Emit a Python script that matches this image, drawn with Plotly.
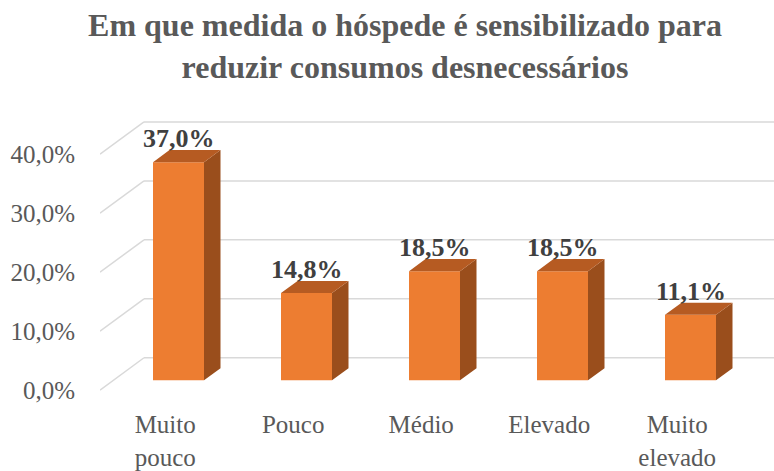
import plotly.graph_objects as go

# ---- data ----
categories = ["Muito<br>pouco", "Pouco", "Médio", "Elevado", "Muito<br>elevado"]
values = [37.0, 14.8, 18.5, 18.5, 11.1]
grid_values = [0, 10, 20, 30, 40]
title_text = "Em que medida o hóspede é sensibilizado para<br>reduzir consumos desnecessários"

# ---- styling / geometry (pixel-consistent units) ----
W, H = 774, 471
ML, MR, MT, MB = 100, 0, 110, 71
PX_PER_X = 128.0          # px per category
PX_PER_Y = 6.02           # px per percent
CENTER0_PX = 178.5        # px of first bar centre (front face)
BASE_PX = 386.0           # px of bar base (front face)

x_range = [(ML - CENTER0_PX) / PX_PER_X, (W - MR - CENTER0_PX) / PX_PER_X]
y_range = [(BASE_PX - (H - MB)) / PX_PER_Y, (BASE_PX - MT) / PX_PER_Y]

bar_w = 51 / PX_PER_X
bar_dx = 16.5 / PX_PER_X
bar_dy = 12.4 / PX_PER_Y
front_dx, front_dy = -13.3 / PX_PER_X, -10.0 / PX_PER_Y
back_dx, back_dy = 30.7 / PX_PER_X, 23.0 / PX_PER_Y

FRONT = "#ED7D31"
TOP = "#B65B22"
SIDE = "#9A4E1C"
GRID = "#D9D9D9"
FONT = "Liberation Serif, Times New Roman, serif"

xs = list(range(len(categories)))

fig = go.Figure()

# front faces
fig.add_trace(go.Bar(x=xs, y=values, width=bar_w, marker=dict(color=FRONT, line=dict(width=0)),
                     hoverinfo="skip", showlegend=False))

# side faces and top faces
side_x, side_y, top_x, top_y = [], [], [], []
for x, v in zip(xs, values):
    r = x + bar_w / 2
    l = x - bar_w / 2
    side_x += [r, r + bar_dx, r + bar_dx, r, r, None]
    side_y += [0, bar_dy, v + bar_dy, v, 0, None]
    top_x += [l, l + bar_dx, r + bar_dx, r, l, None]
    top_y += [v, v + bar_dy, v + bar_dy, v, v, None]
fig.add_trace(go.Scatter(x=side_x, y=side_y, mode="lines", fill="toself", fillcolor=SIDE,
                         line=dict(width=0, color=SIDE), hoverinfo="skip", showlegend=False))
fig.add_trace(go.Scatter(x=top_x, y=top_y, mode="lines", fill="toself", fillcolor=TOP,
                         line=dict(width=0, color=TOP), hoverinfo="skip", showlegend=False))

# walls' gridlines (below traces)
x_left_front = x_range[0]
x_left_back = x_left_front + (back_dx - front_dx)
for g in grid_values:
    fig.add_shape(type="line", xref="x", yref="y", layer="below",
                  x0=x_left_front, y0=g + front_dy, x1=x_left_back, y1=g + back_dy,
                  line=dict(color=GRID, width=1.5))
    fig.add_shape(type="line", xref="x", yref="y", layer="below",
                  x0=x_left_back, y0=g + back_dy, x1=x_range[1], y1=g + back_dy,
                  line=dict(color=GRID, width=1.5))

# data labels
for x, v in zip(xs, values):
    fig.add_annotation(x=x, y=v + bar_dy, xref="x", yref="y", yanchor="bottom", yshift=-5,
                       text=f"{v:.1f}%".replace(".", ","), showarrow=False,
                       font=dict(family=FONT, size=26, color="#404040", weight="bold"))

fig.update_layout(
    width=W, height=H,
    margin=dict(l=ML, r=MR, t=MT, b=MB),
    paper_bgcolor="white", plot_bgcolor="white",
    title=dict(text=title_text, x=405 / W, xanchor="center", xref="container",
               y=1 - 36 / H, yanchor="top", yref="container",
               font=dict(family=FONT, size=32, color="#595959", weight="bold")),
    xaxis=dict(range=x_range, tickvals=[x + front_dx for x in xs], ticktext=categories,
               showgrid=False, zeroline=False, showline=False, ticks="",
               tickfont=dict(family=FONT, size=25, color="#595959"), ticklabelstandoff=13),
    yaxis=dict(range=y_range, tickvals=[g + front_dy for g in grid_values],
               ticktext=[f"{g:.1f}%".replace(".", ",") for g in grid_values],
               showgrid=False, zeroline=False, showline=False, ticks="",
               tickfont=dict(family=FONT, size=25, color="#595959"), ticklabelstandoff=24),
    showlegend=False,
)

fig.write_html("out.html", config={"displayModeBar": False},
               post_script="document.body.style.margin='0';")
